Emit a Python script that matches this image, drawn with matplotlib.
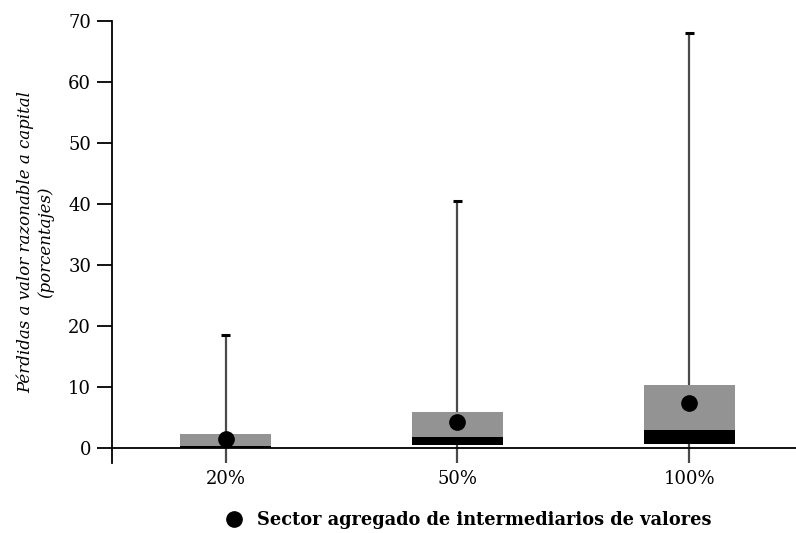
import numpy as np
import matplotlib.pyplot as plt
from matplotlib.lines import Line2D

# Shock scenarios and distribution of fair value losses to capital (%)
scenarios = ["20%", "50%", "100%"]
low = [0.0, 0.4, 0.6]        # bottom of the black segment
median = [0.25, 1.7, 2.95]   # top of the black segment
upper = [2.3, 5.8, 10.3]     # top of the grey segment
whisker_max = [18.5, 40.5, 68.0]
aggregate = [1.5, 4.3, 7.3]  # aggregated securities intermediaries sector

plt.rcParams['font.family'] = ['DejaVu Serif']

fig = plt.figure(figsize=(7.96, 5.33), dpi=100)
ax = fig.add_axes([0.1407, 0.1313, 0.8593, 0.8293])

x = np.arange(1, len(scenarios) + 1)
width = 0.39
ymin = -2.5

# Whiskers with small caps
ax.vlines(x, ymin, whisker_max, color='#4a4a4a', lw=1.6, zorder=1)
ax.hlines(whisker_max, x - 0.02, x + 0.02, color='black', lw=2.2, zorder=1)

# Stacked boxes: black lower part, grey upper part
ax.bar(x, np.array(median) - np.array(low), width, bottom=low,
       color='black', zorder=2)
ax.bar(x, np.array(upper) - np.array(median), width, bottom=median,
       color='#939393', zorder=2)

ax.plot(x, aggregate, 'o', color='black', markersize=11, zorder=3)

ax.axhline(0, color='black', lw=1.3, zorder=2)

ax.set_xlim(0.51, 3.46)
ax.set_ylim(ymin, 70)
ax.set_yticks(range(0, 71, 10))
ax.set_xticks(x)
ax.set_xticklabels(scenarios)
for s in ['top', 'right', 'bottom']:
    ax.spines[s].set_visible(False)
ax.spines['left'].set_linewidth(1.3)
ax.tick_params(axis='y', length=11, width=1.3, labelsize=13, pad=4)
ax.tick_params(axis='x', length=0, labelsize=13, pad=5)

ax.set_ylabel("Pérdidas a valor razonable a capital\n(porcentajes)",
              fontsize=12, style='italic', labelpad=10)

handle = Line2D([], [], marker='o', ls='none', color='black', markersize=11)
fig.legend([handle], ["Sector agregado de intermediarios de valores"],
           loc='lower center', bbox_to_anchor=(0.583, -0.022), frameon=False,
           prop={'weight': 'bold', 'size': 12.8}, handletextpad=0.3)

fig.savefig("out.png", dpi=100)
